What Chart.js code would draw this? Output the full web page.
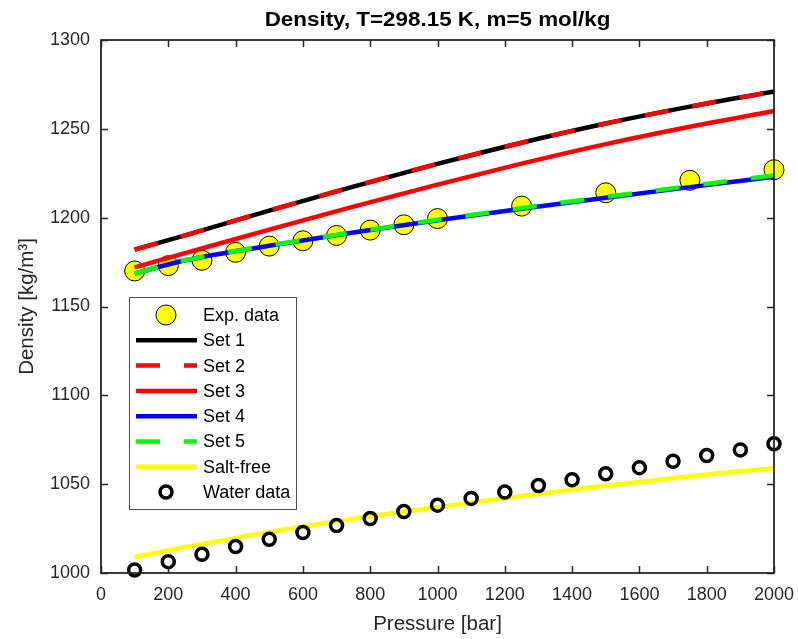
<!DOCTYPE html>
<html>
<head>
<meta charset="utf-8">
<script src="https://cdn.jsdelivr.net/npm/chart.js@4.4.1/dist/chart.umd.min.js"></script>
<style>
  html, body { margin: 0; padding: 0; background: #ffffff; }
  #wrap { width: 798px; height: 639px; }
</style>
</head>
<body>
<div id="wrap"><canvas id="c" width="798" height="639"></canvas></div>
<script>
// ---- data ----
const chartTitle = 'Density, T=298.15 K, m=5 mol/kg';
const xLabel = 'Pressure [bar]';
const yLabel = 'Density [kg/m\u00B3]';

const expPressure = [100, 200, 300, 400, 500, 600, 700, 800, 900, 1000, 1250, 1500, 1750, 2000];
const expDensity  = [1170, 1173, 1176, 1180.5, 1184, 1187, 1190, 1193, 1196, 1199.5, 1206.5, 1214, 1221, 1227];

const modelPressure = [100, 250, 500, 750, 1000, 1250, 1500, 1750, 2000];
const set1Density = [1182, 1190, 1204, 1217.5, 1230.3, 1242.2, 1253, 1262.5, 1271];
const set2Density = [1182, 1190, 1204, 1217.5, 1230.3, 1242.2, 1253, 1262.5, 1271];
const set3Density = [1172, 1180, 1193.3, 1206.2, 1218.6, 1230.4, 1241.4, 1251.2, 1260];
const set4Density = [1168.5, 1176, 1184.2, 1191.6, 1198.5, 1205, 1211.2, 1217.2, 1223];
const set5Density = [1168.5, 1176, 1184.3, 1191.8, 1198.8, 1205.4, 1211.7, 1217.8, 1223.8];
const saltFreeDensity = [1009, 1014.5, 1023, 1030.5, 1037, 1043.3, 1049.1, 1054.4, 1059];

const waterPressure = [100, 200, 300, 400, 500, 600, 700, 800, 900, 1000, 1100, 1200, 1300, 1400, 1500, 1600, 1700, 1800, 1900, 2000];
const waterDensity  = [1001.7, 1006.4, 1010.5, 1014.9, 1019, 1022.8, 1026.7, 1030.7, 1034.6, 1038.2, 1042, 1045.6, 1049.2, 1052.5, 1055.9, 1059.3, 1062.9, 1066.1, 1069.3, 1072.7];

const xTicks = { min: 0, max: 2000, step: 200 };
const yTicks = { min: 1000, max: 1300, step: 50 };

// ---- build datasets ----
const toXY = (xs, ys) => xs.map((x, i) => ({ x: x, y: ys[i] }));
const AX = '#262626';
const FONT = "'Liberation Sans', Arial, Helvetica, sans-serif";

function lineDs(label, ys, color, dash) {
  return {
    label: label, type: 'line', data: toXY(modelPressure, ys),
    borderColor: color, backgroundColor: color, borderWidth: 4.5,
    borderDash: dash || [], borderCapStyle: 'butt',
    pointRadius: 0, showLine: true, fill: false,
    cubicInterpolationMode: 'monotone', clip: false,
    legendKind: 'line'
  };
}

const datasets = [
  { label: 'Exp. data', type: 'line', data: toXY(expPressure, expDensity), showLine: false,
    pointRadius: 10, pointBackgroundColor: '#ffff00', pointBorderColor: '#000000', pointBorderWidth: 1,
    borderColor: '#000000', backgroundColor: '#ffff00', clip: false, legendKind: 'exp' },
  lineDs('Set 1', set1Density, '#000000'),
  lineDs('Set 2', set2Density, '#ff0000', [24, 24]),
  lineDs('Set 3', set3Density, '#ff0000'),
  lineDs('Set 4', set4Density, '#0000ff'),
  lineDs('Set 5', set5Density, '#00ff00', [24, 24]),
  lineDs('Salt-free', saltFreeDensity, '#ffff00'),
  { label: 'Water data', type: 'line', data: toXY(waterPressure, waterDensity), showLine: false,
    pointRadius: 6, pointBackgroundColor: 'rgba(0,0,0,0)', pointBorderColor: '#000000', pointBorderWidth: 3.5,
    borderColor: '#000000', backgroundColor: 'rgba(0,0,0,0)', clip: false, legendKind: 'water' }
];
datasets.forEach((d, i) => { d.order = 20 - i; });

// ---- MATLAB-like title, box, inward ticks and legend ----
const boxPlugin = {
  id: 'matlabBox',
  afterDraw(chart) {
    const ctx = chart.ctx, a = chart.chartArea;
    const xs = chart.scales.x, ys = chart.scales.y;
    ctx.save();
    // title centred over the axes
    ctx.save();
    ctx.font = 'bold 20px ' + FONT;
    ctx.fillStyle = '#000000';
    ctx.textAlign = 'center'; ctx.textBaseline = 'middle';
    ctx.translate((a.left + a.right) / 2, 20);
    ctx.scale(1.12, 1);
    ctx.fillText(chartTitle, 0, 0);
    ctx.restore();

    ctx.strokeStyle = AX; ctx.lineWidth = 1.5;
    ctx.beginPath();
    xs.ticks.forEach(t => {
      const px = Math.round(xs.getPixelForValue(t.value)) + 0.5;
      ctx.moveTo(px, a.bottom); ctx.lineTo(px, a.bottom - 7);
      ctx.moveTo(px, a.top); ctx.lineTo(px, a.top + 7);
    });
    ys.ticks.forEach(t => {
      const py = Math.round(ys.getPixelForValue(t.value)) + 0.5;
      ctx.moveTo(a.left, py); ctx.lineTo(a.left + 7, py);
      ctx.moveTo(a.right, py); ctx.lineTo(a.right - 7, py);
    });
    ctx.stroke();
    ctx.lineWidth = 1.8;
    ctx.strokeRect(a.left, a.top, a.right - a.left, a.bottom - a.top);

    // legend
    const L = { x: 129, y: 297, w: 167, h: 212, row0: 315, dy: 25.3 };
    ctx.fillStyle = '#ffffff';
    ctx.fillRect(L.x, L.y, L.w, L.h);
    ctx.strokeStyle = '#4d4d4d'; ctx.lineWidth = 1;
    ctx.strokeRect(L.x + 0.5, L.y + 0.5, L.w, L.h);
    ctx.font = '18px ' + FONT;
    ctx.textBaseline = 'middle'; ctx.textAlign = 'left';
    chart.data.datasets.forEach((d, i) => {
      const cy = L.row0 + i * L.dy;
      if (d.legendKind === 'line') {
        ctx.save();
        ctx.strokeStyle = d.borderColor; ctx.lineWidth = d.borderWidth;
        ctx.lineCap = 'butt';
        ctx.setLineDash(d.borderDash || []);
        ctx.beginPath(); ctx.moveTo(136, cy); ctx.lineTo(197, cy); ctx.stroke();
        ctx.restore();
      } else {
        ctx.save();
        ctx.beginPath();
        ctx.arc(166, cy, d.pointRadius, 0, Math.PI * 2);
        if (d.legendKind === 'exp') { ctx.fillStyle = d.pointBackgroundColor; ctx.fill(); }
        ctx.strokeStyle = d.pointBorderColor; ctx.lineWidth = d.pointBorderWidth;
        ctx.stroke();
        ctx.restore();
      }
      ctx.fillStyle = '#000000';
      ctx.fillText(d.label, 203, cy + 1);
    });
    ctx.restore();
  }
};

new Chart(document.getElementById('c'), {
  type: 'line',
  data: { datasets: datasets },
  options: {
    responsive: false,
    animation: false,
    devicePixelRatio: 1,
    layout: { padding: { left: 0, right: 24, top: 40, bottom: 0 } },
    plugins: {
      legend: { display: false },
      tooltip: { enabled: false },
      title: { display: false }
    },
    scales: {
      x: {
        type: 'linear', position: 'bottom',
        min: xTicks.min, max: xTicks.max,
        ticks: { stepSize: xTicks.step, color: AX, font: { family: FONT, size: 18 }, padding: 11, maxRotation: 0,
                 callback: v => String(v) },
        grid: { display: false, drawTicks: false },
        border: { display: false },
        title: { display: true, text: xLabel, color: AX, font: { family: FONT, size: 20.5, lineHeight: 1.2 }, padding: { top: 0, bottom: 2 } },
        afterFit(s) { s.height = 66; s.paddingLeft = 0; s.paddingRight = 0; }
      },
      y: {
        type: 'linear', position: 'left',
        min: yTicks.min, max: yTicks.max,
        ticks: { stepSize: yTicks.step, color: AX, font: { family: FONT, size: 18 }, padding: 11,
                 callback: v => String(v) },
        grid: { display: false, drawTicks: false },
        border: { display: false },
        title: { display: true, text: yLabel, color: AX, font: { family: FONT, size: 20.5, lineHeight: 1.2 }, padding: { top: 15, bottom: 0 } },
        afterFit(s) { s.width = 101; s.paddingTop = 0; s.paddingBottom = 0; }
      }
    }
  },
  plugins: [boxPlugin]
});
</script>
</body>
</html>
